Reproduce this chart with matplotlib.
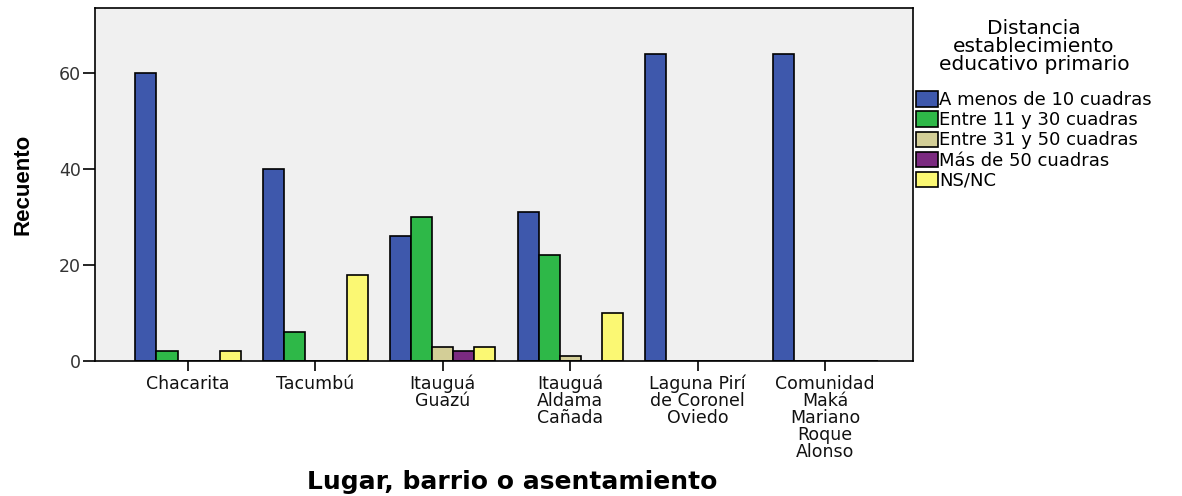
import numpy as np
import matplotlib.pyplot as plt

plt.rcParams['font.family'] = ['DejaVu Sans']

lugares = ['Chacarita', 'Tacumbú', 'Itauguá\nGuazú', 'Itauguá\nAldama\nCañada',
           'Laguna Pirí\nde Coronel\nOviedo', 'Comunidad\nMaká\nMariano\nRoque\nAlonso']
series = ['A menos de 10 cuadras', 'Entre 11 y 30 cuadras', 'Entre 31 y 50 cuadras',
          'Más de 50 cuadras', 'NS/NC']
menos10 = [60, 40, 26, 31, 64, 64]
entre11_30 = [2, 6, 30, 22, 0, 0]
entre31_50 = [0, 0, 3, 1, 0, 0]
mas50 = [0, 0, 2, 0, 0, 0]
nsnc = [2, 18, 3, 10, 0, 0]
colores = ['#3E58AC', '#2EB848', '#D3CE97', '#7B2A80', '#FBF873']

valores = [menos10, entre11_30, entre31_50, mas50, nsnc]

fig = plt.figure(figsize=(11.82, 4.96), dpi=100)
ax = fig.add_axes([95/1182, 1-361/496, (913-95)/1182, (361-8)/496])
ax.set_facecolor('#F0F0F0')

x = np.arange(len(lugares))
w = 0.165
for i, (vals, col, nombre) in enumerate(zip(valores, colores, series)):
    ax.bar(x + (i - 2) * w, vals, w, color=col, edgecolor='black', linewidth=1.2,
           label=nombre)

ax.set_xlim(-0.73, 5.69)
ax.set_ylim(0, 73.5)
ax.set_yticks([0, 20, 40, 60])
ax.set_xticks(x)
ax.set_xticklabels(lugares, fontsize=12.5, va='top', linespacing=0.93, color='#111111')
ax.tick_params(axis='y', labelsize=12.5, length=9, width=1.2, labelcolor='#333333', pad=1)
ax.tick_params(axis='x', length=7, width=1.2, pad=3)
for s in ax.spines.values():
    s.set_linewidth(1.2)

ax.set_ylabel('Recuento', fontsize=16, fontweight='bold', family='Liberation Sans',
              labelpad=18)
ax.set_xlabel('Lugar, barrio o asentamiento', fontsize=18, fontweight='bold',
              labelpad=6.5)
ax.xaxis.label.set_x(0.51)

leg = ax.legend(title='Distancia\nestablecimiento\neducativo primario', loc='upper left',
                bbox_to_anchor=(916/1182, 1-19/496), bbox_transform=fig.transFigure,
                frameon=False, fontsize=13, title_fontsize=14.5,
                handlelength=1.2, handleheight=0.95, handletextpad=0.1, labelspacing=0.12,
                borderaxespad=0, borderpad=0)
leg.get_title().set_multialignment('center')
leg.get_title().set_linespacing(0.95)
leg._legend_box.sep = 12

fig.savefig('out.png', dpi=100)
